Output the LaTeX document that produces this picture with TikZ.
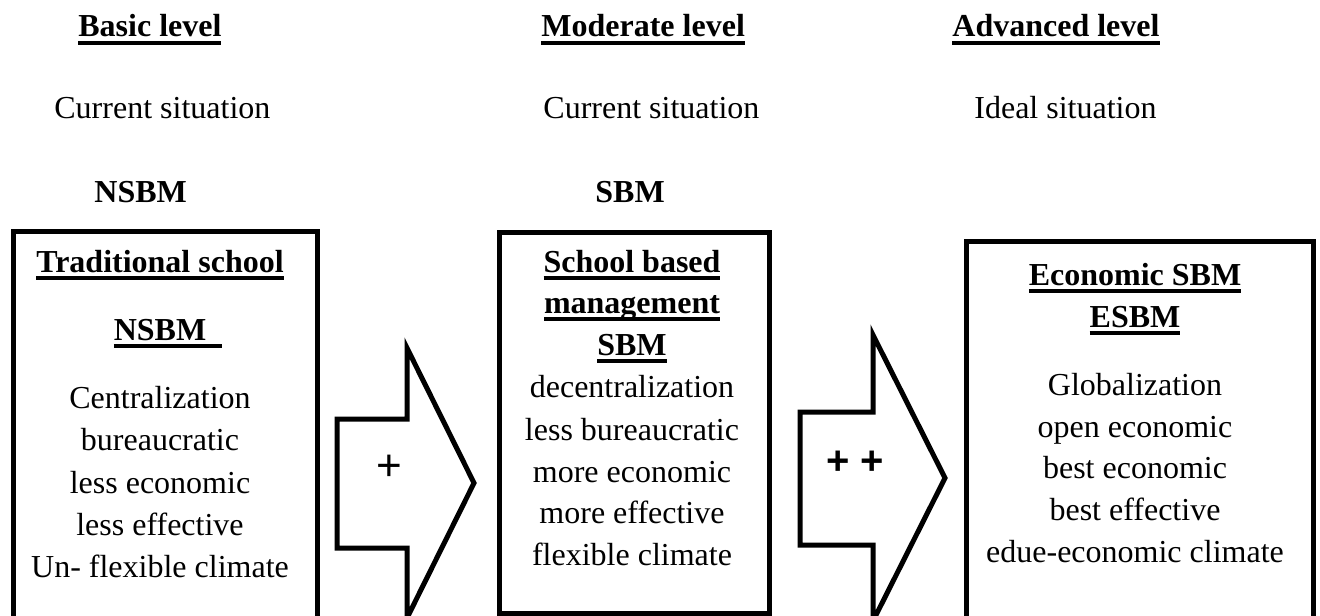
\documentclass[tikz,border=0pt]{standalone}
\usepackage{fontspec}
\setmainfont{Liberation Serif}
\newfontfamily\plusfont{Liberation Sans}
\newcommand\ulx[2][0pt]{\setbox0\hbox{#2}\rlap{\rule[-3.9pt]{\dimexpr\wd0+#1\relax}{1.8pt}}\box0}
\begin{document}
\begin{tikzpicture}[x=0.5pt,y=-0.5pt,
  txt/.style={inner sep=0pt,font=\fontsize{16}{21}\selectfont},
  hd/.style={txt,anchor=base west},
  ln/.style={txt,anchor=base},
  box/.style={draw,line width=2.3pt,inner sep=0pt,anchor=north west},
  blockarrow/.style={draw,line width=2.5pt,miter limit=10},
  plusA/.style={inner sep=0pt,font=\plusfont\fontsize{22}{22}\selectfont},
  plusB/.style={inner sep=0pt,font=\plusfont\bfseries\fontsize{20}{20}\selectfont}]
\useasboundingbox (0,0) rectangle (1320,615);
\clip (0,0) rectangle (1320,615);
% headers
\node[hd] (h1) at (78,37) {\ulx{\textbf{Basic level}}};
\node[hd] (h2) at (541,37) {\ulx{\textbf{Moderate level}}};
\node[hd] (h3) at (952,37) {\ulx{\textbf{Advanced level}}};
\node[hd] (s1) at (54,119) {Current situation};
\node[hd] (s2) at (543,119) {Current situation};
\node[hd] (s3) at (974,119) {Ideal situation};
\node[hd] (m1) at (94,202) {\textbf{NSBM}};
\node[hd] (m2) at (595,202) {\textbf{SBM}};
% boxes
\node[box,minimum width=152pt,minimum height=200pt] (b1) at (11,229) {};
\node[box,minimum width=135pt,minimum height=190.5pt] (b2) at (497,230) {};
\node[box,minimum width=173.5pt,minimum height=200pt] (b3) at (964,239) {};
% box 1 text
\node[ln] (a1) at (160,272) {\ulx{\textbf{Traditional school}}};
\node[ln] (a2) at (160,340) {\ulx[8pt]{\textbf{NSBM}}};
\node[ln] (a3) at (160,408) {Centralization};
\node[ln] (a4) at (160,450) {bureaucratic};
\node[ln] (a5) at (160,493) {less economic};
\node[ln] (a6) at (160,535) {less effective};
\node[ln] (a7) at (160,577) {Un- flexible climate};
% box 2 text
\node[ln] (c1) at (632,272) {\ulx{\textbf{School based}}};
\node[ln] (c2) at (632,313) {\ulx{\textbf{management}}};
\node[ln] (c3) at (632,355) {\ulx{\textbf{SBM}}};
\node[ln] (c4) at (632,397) {decentralization};
\node[ln] (c5) at (632,440) {less bureaucratic};
\node[ln] (c6) at (632,482) {more economic};
\node[ln] (c7) at (632,523) {more effective};
\node[ln] (c8) at (632,565) {flexible climate};
% box 3 text
\node[ln] (e1) at (1135,285) {\ulx{\textbf{Economic SBM}}};
\node[ln] (e2) at (1135,327) {\ulx{\textbf{ESBM}}};
\node[ln] (e3) at (1135,395) {Globalization};
\node[ln] (e4) at (1135,437) {open economic};
\node[ln] (e5) at (1135,478) {best economic};
\node[ln] (e6) at (1135,520) {best effective};
\node[ln] (e7) at (1135,562) {edue-economic climate};
% block arrows
\draw[blockarrow] (337,419) -- (407,419) -- (407,348) -- (474,483) -- (407,618) -- (407,548) -- (337,548) -- cycle;
\draw[blockarrow] (800,412) -- (873,412) -- (873,335) -- (945,478) -- (873,621) -- (873,545) -- (800,545) -- cycle;
\node[plusA] (p1) at (389,468) {+};
\node[plusB] (p2) at (855,463) {+ +};
\end{tikzpicture}
\end{document}
